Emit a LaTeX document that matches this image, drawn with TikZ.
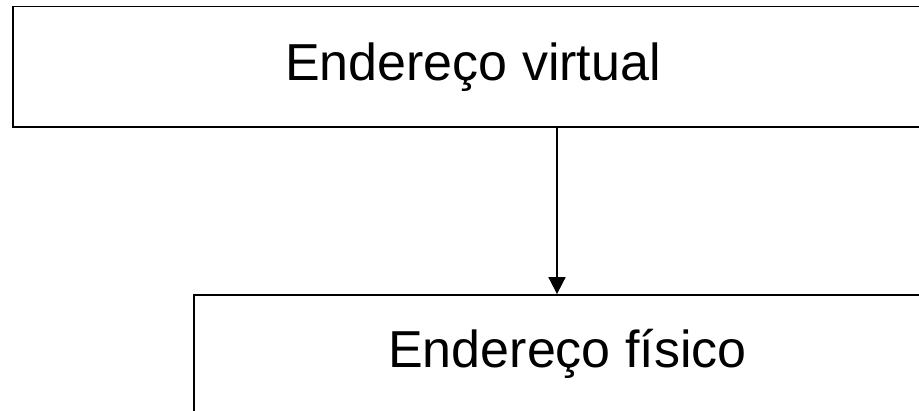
\documentclass[tikz,border=0pt]{standalone}
\usepackage{fontspec}
\setmainfont{Liberation Sans}
\usetikzlibrary{arrows.meta}

\begin{document}
\begin{tikzpicture}[x=1pt, y=-1pt]
    \tikzset{ addr/.style={draw=black, line width=1.8pt, inner sep=0pt, text=black, font=\fontsize{52}{60}\selectfont } }

    \clip (0,0) rectangle (919,411);
    \useasboundingbox (0,0) rectangle (919,411);

    \node[addr, minimum width=920pt, minimum height=120.5pt] (virtual) at (473, 66.8) {Endereço virtual};
    \node[addr, minimum width=747pt, minimum height=118pt] (fisico) at (567.5, 354) {Endereço físico};

    \coordinate (top) at (557, 66.8);
    \draw[line width=1.8pt, -{Triangle[width=17pt, length=17pt]}] (top |- virtual.south) -- (top |- fisico.north);
\end{tikzpicture}
\end{document}
